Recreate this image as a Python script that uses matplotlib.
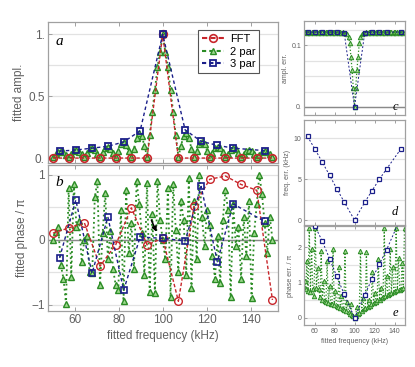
import matplotlib
matplotlib.use('Agg')
import matplotlib.pyplot as plt
from matplotlib.lines import Line2D

plt.rcParams['font.family'] = ['Liberation Sans', 'DejaVu Sans']

# ---- data ----
# FFT bins
f_fft = [50.0, 57.14, 64.29, 71.43, 78.57, 85.71, 92.86, 100.0,
         107.14, 114.29, 121.43, 128.57, 135.71, 142.86, 150.0]
amp_fft = [0.0, 0.0, 0.0, 0.0, 0.0, 0.0, 0.0, 1.0,
           0.0, 0.0, 0.0, 0.0, 0.0, 0.0, 0.0]
ph_fft = [0.10, 0.18, 0.26, -0.41, -0.08, 0.49, -0.08, 0.02,
          -0.95, 0.52, 0.93, 0.98, 0.85, 0.76, -0.93]

# 2 parameter fit (fixed frequency grid)
f_2p = [50.00, 51.19, 52.38, 53.57, 54.76, 55.95, 57.14, 58.33, 59.52, 60.71,
        61.90, 63.10, 64.29, 65.48, 66.67, 67.86, 69.05, 70.24, 71.43, 72.62,
        73.81, 75.00, 76.19, 77.38, 78.57, 79.76, 80.95, 82.14, 83.33, 84.52,
        85.71, 86.90, 88.10, 89.29, 90.48, 91.67, 92.86, 94.05, 95.24, 96.43,
        97.62, 98.81, 100.00, 101.19, 102.38, 103.57, 104.76, 105.95, 107.14, 108.33,
        109.52, 110.71, 111.90, 113.10, 114.29, 115.48, 116.67, 117.86, 119.05, 120.24,
        121.43, 122.62, 123.81, 125.00, 126.19, 127.38, 128.57, 129.76, 130.95, 132.14,
        133.33, 134.52, 135.71, 136.90, 138.10, 139.29, 140.48, 141.67, 142.86, 144.05,
        145.24, 146.43, 147.62, 148.81, 150.00]
amp_2p = [0.01, 0.03, 0.05, 0.055, 0.045, 0.025, 0.01, 0.035, 0.06, 0.065,
          0.05, 0.03, 0.01, 0.04, 0.07, 0.078, 0.062, 0.035, 0.01, 0.05,
          0.085, 0.09, 0.075, 0.04, 0.01, 0.06, 0.11, 0.13, 0.105, 0.055,
          0.01, 0.075, 0.16, 0.2, 0.175, 0.1, 0.01, 0.185, 0.373, 0.548,
          0.736, 0.857, 1.0, 0.857, 0.736, 0.548, 0.373, 0.185, 0.01, 0.1,
          0.18, 0.205, 0.165, 0.075, 0.01, 0.055, 0.11, 0.13, 0.11, 0.06,
          0.01, 0.04, 0.08, 0.09, 0.085, 0.05, 0.01, 0.035, 0.065, 0.078,
          0.07, 0.04, 0.01, 0.03, 0.055, 0.065, 0.06, 0.035, 0.01, 0.025,
          0.05, 0.055, 0.05, 0.03, 0.01]
ph_2p = [0.0, 0.12, 0.2, -0.39, -0.6, -0.99, 0.8, -0.57, 0.85, 0.2,
         0.28, -0.34, 0.0, 0.06, -0.5, -0.52, 0.65, 0.9, -0.7, 0.1,
         0.72, -0.3, 0.13, -0.46, -0.7, -0.78, 0.45, -0.95, 0.77, -0.2,
         0.25, -0.45, 0.9, 0.55, 0.1, -0.55, 0.88, -0.8, 0.4, -0.82,
         0.9, 0.3, 0.0, -0.3, 0.8, -0.88, 0.85, 0.15, -0.5, 0.6,
         0.3, -0.55, 0.95, -0.75, 0.6, -0.3, 1.0, 0.35, -0.1, 0.45,
         0.22, -0.25, -0.6, 0.05, -0.67, 0.3, 0.77, 0.45, -0.88, 0.55,
         -0.1, 0.2, -0.6, 0.35, -0.26, 0.6, -0.9, 0.1, 0.55, 1.0,
         0.7, 0.25, -0.2, 0.35, 0.0]
aerr_2p = [0.121, 0.121, 0.120, 0.121, 0.121, 0.120, 0.121, 0.121, 0.120, 0.121,
           0.121, 0.120, 0.121, 0.121, 0.120, 0.121, 0.121, 0.120, 0.121, 0.121,
           0.120, 0.121, 0.121, 0.120, 0.121, 0.121, 0.120, 0.121, 0.121, 0.120,
           0.121, 0.120, 0.121, 0.120, 0.120, 0.120, 0.118, 0.113, 0.103, 0.081,
           0.059, 0.030, 0.0, 0.030, 0.059, 0.081, 0.103, 0.113, 0.118, 0.120,
           0.120, 0.120, 0.121, 0.120, 0.121, 0.121, 0.120, 0.121, 0.121, 0.120,
           0.121, 0.121, 0.120, 0.121, 0.121, 0.120, 0.121, 0.121, 0.120, 0.121,
           0.121, 0.120, 0.121, 0.121, 0.120, 0.121, 0.121, 0.120, 0.121, 0.121,
           0.120, 0.121, 0.121, 0.120, 0.121]
perr_2p = [1.05, 0.82, 1.62, 0.75, 2.55, 0.72, 1.95, 0.83, 0.62, 2.55,
           0.86, 1.4, 0.83, 0.58, 1.9, 0.5, 1.05, 0.48, 0.45, 1.6,
           0.43, 0.9, 0.4, 0.38, 1.94, 0.36, 0.75, 0.34, 0.3, 1.45,
           0.28, 0.62, 0.26, 0.22, 1.9, 0.2, 0.45, 0.16, 0.12, 0.4,
           0.08, 0.05, 0.0, 0.06, 0.3, 0.1, 0.14, 1.9, 0.2, 0.55,
           0.24, 0.28, 1.86, 0.3, 0.5, 0.33, 0.38, 1.3, 0.42, 0.71,
           0.45, 0.5, 1.67, 0.52, 0.85, 0.55, 0.6, 2.55, 0.62, 1.2,
           0.65, 0.68, 1.95, 0.7, 1.45, 0.73, 0.76, 2.55, 0.78, 1.7,
           0.8, 0.82, 1.55, 0.85, 2.55]

# 3 parameter fit (fitted frequency)
f_3p = [53.0, 60.4, 67.8, 75.0, 82.2, 89.7, 100.0, 110.2, 117.5, 124.9, 132.1, 146.5]
amp_3p = [0.056, 0.065, 0.08, 0.095, 0.13, 0.22, 1.0, 0.228, 0.135, 0.103, 0.08, 0.06]
ph_3p = [-0.28, 0.61, -0.52, 0.35, -0.78, 0.04, 0.02, -0.02, 0.82, -0.34, 0.55, 0.28]
aerr_3p = [0.121, 0.121, 0.121, 0.121, 0.121, 0.120, 0.0, 0.120, 0.121, 0.121, 0.121, 0.121]
ferr_3p = [10.2, 8.65, 7.06, 5.47, 3.84, 2.2, 0.0, 2.16, 3.59, 4.98, 6.24, 8.69]
perr_3p = [2.9, 2.6, 2.17, 1.68, 1.18, 0.67, 0.0, 0.65, 1.1, 1.52, 1.93, 2.85]

RED = '#c8262b'
GREEN = '#2b8c25'
GFILL = '#9fd88f'
BLUE = '#1b1f8a'
GRID = '#e2e2e2'
SPINE = '#a0a0a0'
TXT = '#606060'

fig = plt.figure(figsize=(4.15, 3.67), dpi=100)
fig.patch.set_facecolor('white')


def style(ax, xlim, ylim, yt, ylab, minor, fs, zero_line=False):
    ax.set_xlim(*xlim)
    ax.set_ylim(*ylim)
    ax.set_xticks([60, 80, 100, 120, 140])
    ax.set_yticks([v for v, _ in yt])
    ax.set_yticklabels([s for _, s in yt])
    ax.set_yticks(minor, minor=True)
    ax.tick_params(axis='both', which='both', direction='in', colors=SPINE,
                   labelcolor=TXT, labelsize=fs, length=3, width=0.7,
                   top=True, pad=2)
    ax.tick_params(axis='y', which='minor', length=0)
    ax.grid(True, axis='y', which='both', color=GRID, lw=0.9, zorder=0)
    ax.set_axisbelow(True)
    for s in ax.spines.values():
        s.set_color(SPINE)
        s.set_linewidth(0.9)
    if zero_line:
        ax.axhline(0, color='#8a8a8a', lw=1.0, zorder=1)
    ax.set_ylabel(ylab, color=TXT, fontsize=fs, labelpad=2)


def letter(ax, x, y, s, fs):
    ax.text(x, y, s, transform=ax.transAxes, fontsize=fs, style='italic',
            family='Liberation Serif', ha='center', va='center', zorder=10)


W, H = 415.0, 367.0
LX = (47.5 / W, 230.0 / W)
RX = (304.0 / W, 101.0 / W)

# ---- panel a ----
axa = fig.add_axes([LX[0], 1 - 163 / H, LX[1], 141 / H])
axa.plot(f_2p, amp_2p, ls=':', lw=1.3, color=GREEN, marker='^', ms=5,
         mec=GREEN, mfc=GFILL, mew=1.0, zorder=2)
axa.plot(f_fft, amp_fft, ls='--', dashes=(2.5, 1.5), lw=1.0, color=RED,
         marker='o', ms=5.5, mfc='none', mec=RED, mew=1.2, zorder=3)
axa.plot(f_3p, amp_3p, ls='--', dashes=(2.5, 2), lw=1.0, color=BLUE,
         marker='s', ms=5, mfc='none', mec=BLUE, mew=1.3, zorder=4)
style(axa, (47.5, 152.3), (-0.04, 1.1), [(0, '0.'), (0.5, '0.5'), (1, '1.')],
      'fitted ampl.', [0.25, 0.75], 8.5)
axa.tick_params(labelbottom=False)
letter(axa, 0.05, 0.86, 'a', 11)

handles = [
    Line2D([], [], ls='--', dashes=(2.5, 1.5), color=RED, marker='o', ms=5.5,
           mfc='none', mec=RED, mew=1.2),
    Line2D([], [], ls='--', dashes=(2, 1.5), color=GREEN, marker='^', ms=5,
           mfc=GFILL, mec=GREEN, mew=1.0),
    Line2D([], [], ls='--', dashes=(2, 1.5), color=BLUE, marker='s', ms=5,
           mfc='none', mec=BLUE, mew=1.3),
]
leg = axa.legend(handles, ['FFT', '2 par', '3 par'], loc='upper right',
                 bbox_to_anchor=(0.93, 0.96), fontsize=8, fancybox=False,
                 edgecolor='#555555', framealpha=1, handlelength=2.0,
                 borderpad=0.35, labelspacing=0.25, handletextpad=0.5,
                 borderaxespad=0.2)
leg.get_frame().set_linewidth(0.8)

# ---- panel b ----
axb = fig.add_axes([LX[0], 1 - 311 / H, LX[1], 146 / H])
axb.plot(f_2p, ph_2p, ls=':', lw=1.3, color=GREEN, marker='^', ms=5,
         mec=GREEN, mfc=GFILL, mew=1.0, zorder=2)
axb.plot(f_fft, ph_fft, ls='--', dashes=(2.5, 1.5), lw=1.0, color=RED,
         marker='o', ms=5.5, mfc='none', mec=RED, mew=1.0, zorder=3)
axb.plot(f_3p, ph_3p, ls='--', dashes=(2.5, 2), lw=1.0, color=BLUE,
         marker='s', ms=5, mfc='none', mec=BLUE, mew=1.2, zorder=4)
style(axb, (47.5, 152.3), (-1.1, 1.15), [(-1, '\u22121'), (0, '0'), (1, '1')],
      'fitted phase / \u03c0', [-0.5, 0.5], 8.5, zero_line=True)
axb.set_xlabel('fitted frequency (kHz)', color=TXT, fontsize=8.5, labelpad=3)
axb.annotate('', xy=(97.7, 0.08), xytext=(94.3, 0.34),
             arrowprops=dict(arrowstyle='-|>', color='black', lw=1.1,
                             mutation_scale=7), zorder=6)
letter(axb, 0.05, 0.88, 'b', 11)

# ---- panel c ----
axc = fig.add_axes([RX[0], 1 - 115 / H, RX[1], 94 / H])
axc.plot(f_2p, aerr_2p, ls=':', lw=0.9, color=GREEN, marker='^', ms=3.2,
         mec=GREEN, mfc=GFILL, mew=0.7, zorder=2)
axc.plot(f_3p, aerr_3p, ls='--', dashes=(2, 2), lw=0.7, color=BLUE,
         marker='s', ms=3, mfc='none', mec=BLUE, mew=0.9, zorder=4)
style(axc, (49.5, 150.5), (-0.013, 0.139), [(0, '0.'), (0.1, '0.1')],
      'ampl. err.', [0.025, 0.05, 0.075, 0.125], 5, zero_line=True)
axc.tick_params(labelbottom=False, length=2)
letter(axc, 0.9, 0.09, 'c', 9)

# ---- panel d ----
axd = fig.add_axes([RX[0], 1 - 225 / H, RX[1], 105 / H])
axd.plot(f_3p, ferr_3p, ls='--', dashes=(2, 2), lw=0.7, color=BLUE,
         marker='s', ms=3.2, mfc='white', mec=BLUE, mew=0.9, zorder=4)
style(axd, (49.5, 150.5), (-0.6, 12.2), [(0, '0'), (5, '5'), (10, '10')],
      'freq. err. (kHz)', [2.5, 7.5], 5)
axd.tick_params(labelbottom=False, length=2)
letter(axd, 0.9, 0.12, 'd', 9)

# ---- panel e ----
axe = fig.add_axes([RX[0], 1 - 325 / H, RX[1], 99 / H])
axe.plot(f_2p, perr_2p, ls=':', lw=0.9, color=GREEN, marker='^', ms=3.2,
         mec=GREEN, mfc=GFILL, mew=0.7, zorder=2)
axe.plot(f_3p, perr_3p, ls='--', dashes=(2, 2), lw=0.7, color=BLUE,
         marker='s', ms=3.2, mfc='white', mec=BLUE, mew=0.9, zorder=4)
style(axe, (49.5, 150.5), (-0.2, 2.6), [(0, '0'), (1, '1'), (2, '2')],
      'phase err. / \u03c0', [0.5, 1.5, 2.5], 5)
axe.tick_params(length=2)
axe.set_xlabel('fitted frequency (kHz)', color=TXT, fontsize=5, labelpad=2)
letter(axe, 0.9, 0.12, 'e', 9)

fig.savefig('out.png', dpi=100, facecolor='white')
